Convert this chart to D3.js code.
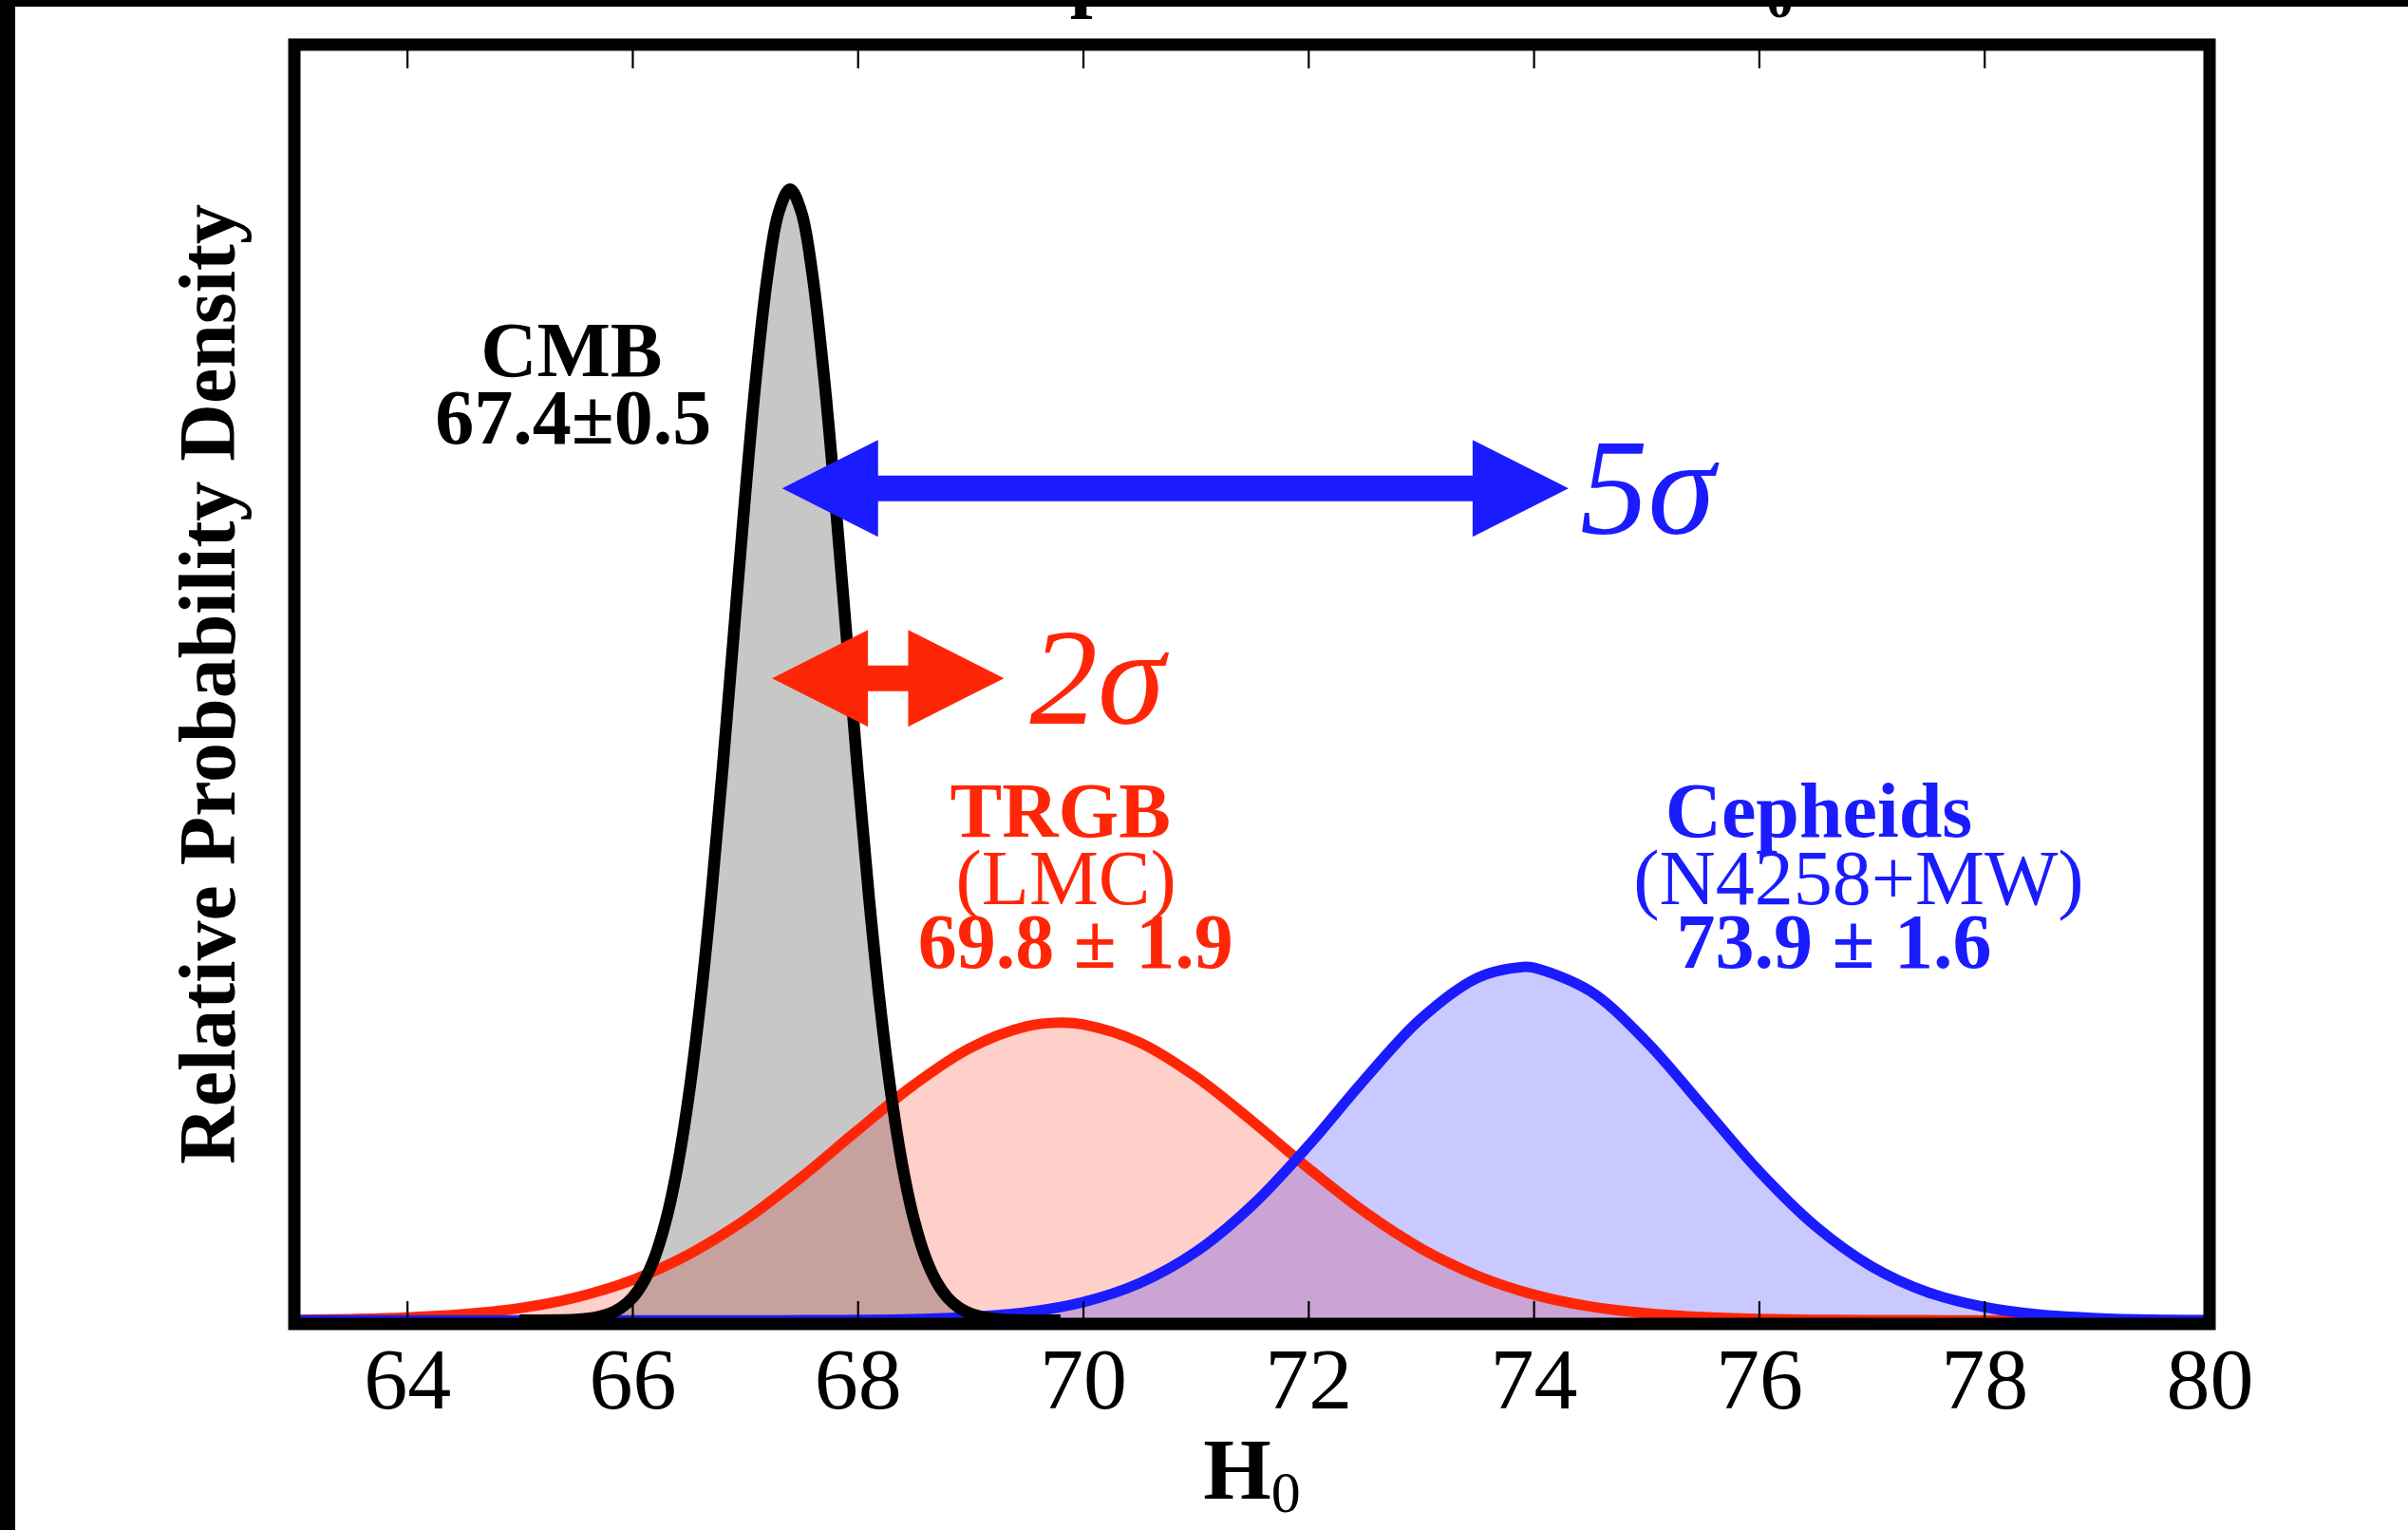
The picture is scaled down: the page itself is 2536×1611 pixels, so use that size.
<!DOCTYPE html>
<html>
<head>
<meta charset="utf-8">
<script src="https://cdn.jsdelivr.net/npm/d3@7"></script>
<style>
  html, body { margin: 0; padding: 0; background: #fff; }
  svg { display: block; }
  text { font-family: "Liberation Serif", "Times New Roman", serif; }
</style>
</head>
<body>
<svg id="chart"></svg>
<script>
// values (relative probability density vs H0)
const xTicks = [64, 66, 68, 70, 72, 74, 76, 78, 80];

const cmbH0 = [65.0, 65.5, 65.6, 65.7, 65.8, 65.9, 66.0, 66.1, 66.2, 66.3, 66.4, 66.5, 66.6, 66.7, 66.8, 66.9,
    67.0, 67.1, 67.2, 67.3, 67.4, 67.5, 67.6, 67.7, 67.8, 67.9, 68.0, 68.1, 68.2, 68.3, 68.4, 68.5,
    68.6, 68.7, 68.8, 68.9, 69.0, 69.1, 69.2, 69.3, 69.8];
const cmbDensity = [0, 0.0006, 0.0012, 0.0025, 0.0048, 0.0089, 0.0158, 0.0272, 0.0448, 0.071, 0.108, 0.158, 0.222, 0.299, 0.388, 0.484,
    0.580, 0.667, 0.737, 0.782, 0.798, 0.782, 0.737, 0.667, 0.580, 0.484, 0.388, 0.299, 0.222, 0.158, 0.108, 0.071,
    0.0448, 0.0272, 0.0158, 0.0089, 0.0048, 0.0025, 0.0012, 0.0006, 0];

const trgbH0 = [63.0, 63.5, 64.0, 64.5, 65.0, 65.5, 66.0, 66.5, 67.0, 67.5, 68.0, 68.5, 69.0, 69.5, 69.8, 70.0,
    70.5, 71.0, 71.5, 72.0, 72.5, 73.0, 73.5, 74.0, 74.5, 75.0, 75.5, 76.0, 76.5, 77.0, 77.5, 78.0, 80.0];
const trgbDensity = [0.0003, 0.0009, 0.0020, 0.0043, 0.0086, 0.0162, 0.0284, 0.0465, 0.0709, 0.1009, 0.1341, 0.1662, 0.1922, 0.2074, 0.2100, 0.2088,
    0.1962, 0.1720, 0.1407, 0.1074, 0.0765, 0.0508, 0.0315, 0.0182, 0.0098, 0.0050, 0.0023, 0.0010, 0.0004, 0.0002, 0.0001, 0, 0];

const cephH0 = [63.0, 67.0, 67.5, 68.0, 68.5, 69.0, 69.5, 70.0, 70.5, 71.0, 71.5, 72.0, 72.5, 73.0, 73.5, 73.9,
    74.0, 74.5, 75.0, 75.5, 76.0, 76.5, 77.0, 77.5, 78.0, 78.5, 79.0, 79.5, 80.0];
const cephDensity = [0, 0, 0.0001, 0.0003, 0.0008, 0.0023, 0.0057, 0.0128, 0.0261, 0.0482, 0.0810, 0.1232, 0.1700, 0.2128, 0.2416, 0.2493,
    0.2488, 0.2324, 0.1968, 0.1512, 0.1054, 0.0666, 0.0381, 0.0198, 0.0094, 0.0040, 0.0016, 0.0005, 0.0002];

// tension arrows: [from H0, to H0, height, label]
const sigmaArrows = [
    [67.33, 74.31, 0.587, "5σ"],
    [67.24, 69.30, 0.453, "2σ"]
];

// label blocks: [H0 centre, density of first baseline, lines]
const cmbLabel = [65.46, 0.666, ["CMB", "67.4±0.5"]];
const trgbLabel = [69.85, 0.341, ["TRGB", "(LMC)", "69.8 ± 1.9"]];
const cephLabel = [76.7, 0.341, ["Cepheids", "(N4258+MW)", "73.9 ± 1.6"]];

const width = 2536, height = 1611;
const frame = {left: 310, right: 2327, top: 47, bottom: 1394};
const RED = "#ff2608", BLUE = "#1b1bff";

const svg = d3.select("#chart")
    .attr("width", width)
    .attr("height", height);

svg.append("rect").attr("width", width).attr("height", height).attr("fill", "#fff");

const x = d3.scaleLinear().domain([63, 80]).range([frame.left, frame.right]);
const y = d3.scaleLinear().domain([-0.0025, 0.9]).range([frame.bottom, frame.top]);

function zipSeries(xs, ys) {
    return xs.map((v, i) => [v, ys[i]]);
}

const area = d3.area()
    .x(d => x(d[0]))
    .y0(y(0))
    .y1(d => y(d[1]))
    .curve(d3.curveCatmullRom.alpha(0.5));

const line = d3.line()
    .x(d => x(d[0]))
    .y(d => y(d[1]))
    .curve(d3.curveCatmullRom.alpha(0.5));

const cmb = zipSeries(cmbH0, cmbDensity);
const trgb = zipSeries(trgbH0, trgbDensity);
const ceph = zipSeries(cephH0, cephDensity);

const plot = svg.append("g");

// translucent fills; grey goes on top so the overlap turns brownish
plot.append("path").attr("d", area(trgb)).attr("fill", RED).attr("fill-opacity", 0.22);
plot.append("path").attr("d", area(ceph)).attr("fill", BLUE).attr("fill-opacity", 0.235);
plot.append("path").attr("d", area(cmb)).attr("fill", "#000").attr("fill-opacity", 0.22);

plot.append("path").attr("d", line(trgb)).attr("fill", "none").attr("stroke", RED).attr("stroke-width", 11);
plot.append("path").attr("d", line(ceph)).attr("fill", "none").attr("stroke", BLUE).attr("stroke-width", 11);
plot.append("path").attr("d", line(cmb)).attr("fill", "none").attr("stroke", "#000")
    .attr("stroke-width", 12.5).attr("stroke-linejoin", "round");

// double headed block arrows
function arrowPoints(x0, x1, yc) {
    const hl = 101, hh = 51, sh = 13.5;
    return [
        [x0, yc], [x0 + hl, yc - hh], [x0 + hl, yc - sh], [x1 - hl, yc - sh], [x1 - hl, yc - hh],
        [x1, yc], [x1 - hl, yc + hh], [x1 - hl, yc + sh], [x0 + hl, yc + sh], [x0 + hl, yc + hh]
    ];
}

sigmaArrows.forEach((a, i) => {
    const color = i === 0 ? BLUE : RED;
    plot.append("polygon")
        .attr("points", arrowPoints(x(a[0]), x(a[1]), y(a[2])).map(p => p.join(",")).join(" "))
        .attr("fill", color);
    plot.append("text")
        .attr("x", x(a[1]) + (i === 0 ? 12 : 27))
        .attr("y", y(a[2]) + 48)
        .attr("font-size", 143)
        .attr("font-style", "italic")
        .attr("fill", color)
        .text(a[3]);
});

// curve labels; the bracketed lines are set in the lighter weight
function labelBlock(lab, color, offsets) {
    const g = plot.append("g");
    lab[2].forEach((t, i) => {
        g.append("text")
            .attr("x", x(lab[0]) + offsets[i])
            .attr("y", y(lab[1]) + [0, 71, 138][i])
            .attr("text-anchor", "middle")
            .attr("font-size", 82)
            .attr("font-weight", t.startsWith("(") ? "normal" : "bold")
            .attr("fill", color)
            .text(t);
    });
}
labelBlock(cmbLabel, "#000", [0, 2]);
labelBlock(trgbLabel, RED, [-6, 0, 10]);
labelBlock(cephLabel, BLUE, [-20, 22, -4]);

// frame and inside ticks, top and bottom
const bottomAxis = svg.append("g")
    .attr("transform", `translate(0,${frame.bottom})`)
    .call(d3.axisBottom(x).tickValues(xTicks).tickSize(-24).tickPadding(24).tickFormat(d3.format("d")));
const topAxis = svg.append("g")
    .attr("transform", `translate(0,${frame.top})`)
    .call(d3.axisTop(x).tickValues(xTicks.slice(0, -1)).tickSize(-25).tickFormat(""));

[bottomAxis, topAxis].forEach(ax => {
    ax.select(".domain").remove();
    ax.selectAll(".tick line").attr("stroke", "#000").attr("stroke-width", 2.2);
});
bottomAxis.selectAll(".tick text")
    .attr("font-family", "Liberation Serif, serif")
    .attr("font-size", 92)
    .attr("fill", "#000");

svg.append("rect")
    .attr("x", frame.left)
    .attr("y", frame.top)
    .attr("width", frame.right - frame.left)
    .attr("height", frame.bottom - frame.top)
    .attr("fill", "none")
    .attr("stroke", "#000")
    .attr("stroke-width", 13);

// axis titles
const xTitle = svg.append("text")
    .attr("x", (frame.left + frame.right) / 2)
    .attr("y", 1578)
    .attr("text-anchor", "middle")
    .attr("font-size", 92)
    .attr("font-weight", "bold");
xTitle.append("tspan").text("H");
xTitle.append("tspan").attr("dy", 14).attr("font-size", 62).attr("font-weight", "normal").text("0");

svg.append("text")
    .attr("transform", `translate(247,${(frame.top + frame.bottom) / 2}) rotate(-90)`)
    .attr("text-anchor", "middle")
    .attr("font-size", 84)
    .attr("font-weight", "bold")
    .text("Relative Probability Density");

// title, mostly cut off by the crop of the original
const title = svg.append("text")
    .attr("x", 950)
    .attr("y", 1)
    .attr("font-size", 86)
    .attr("font-weight", "bold")
    .text("Comparison of Recent H");
title.append("tspan").attr("dy", 17).attr("font-size", 58).text("0");

// black crop edges
svg.append("rect").attr("x", 0).attr("y", 0).attr("width", width).attr("height", 7).attr("fill", "#000");
svg.append("rect").attr("x", 0).attr("y", 0).attr("width", 16).attr("height", height).attr("fill", "#000");
</script>
</body>
</html>
